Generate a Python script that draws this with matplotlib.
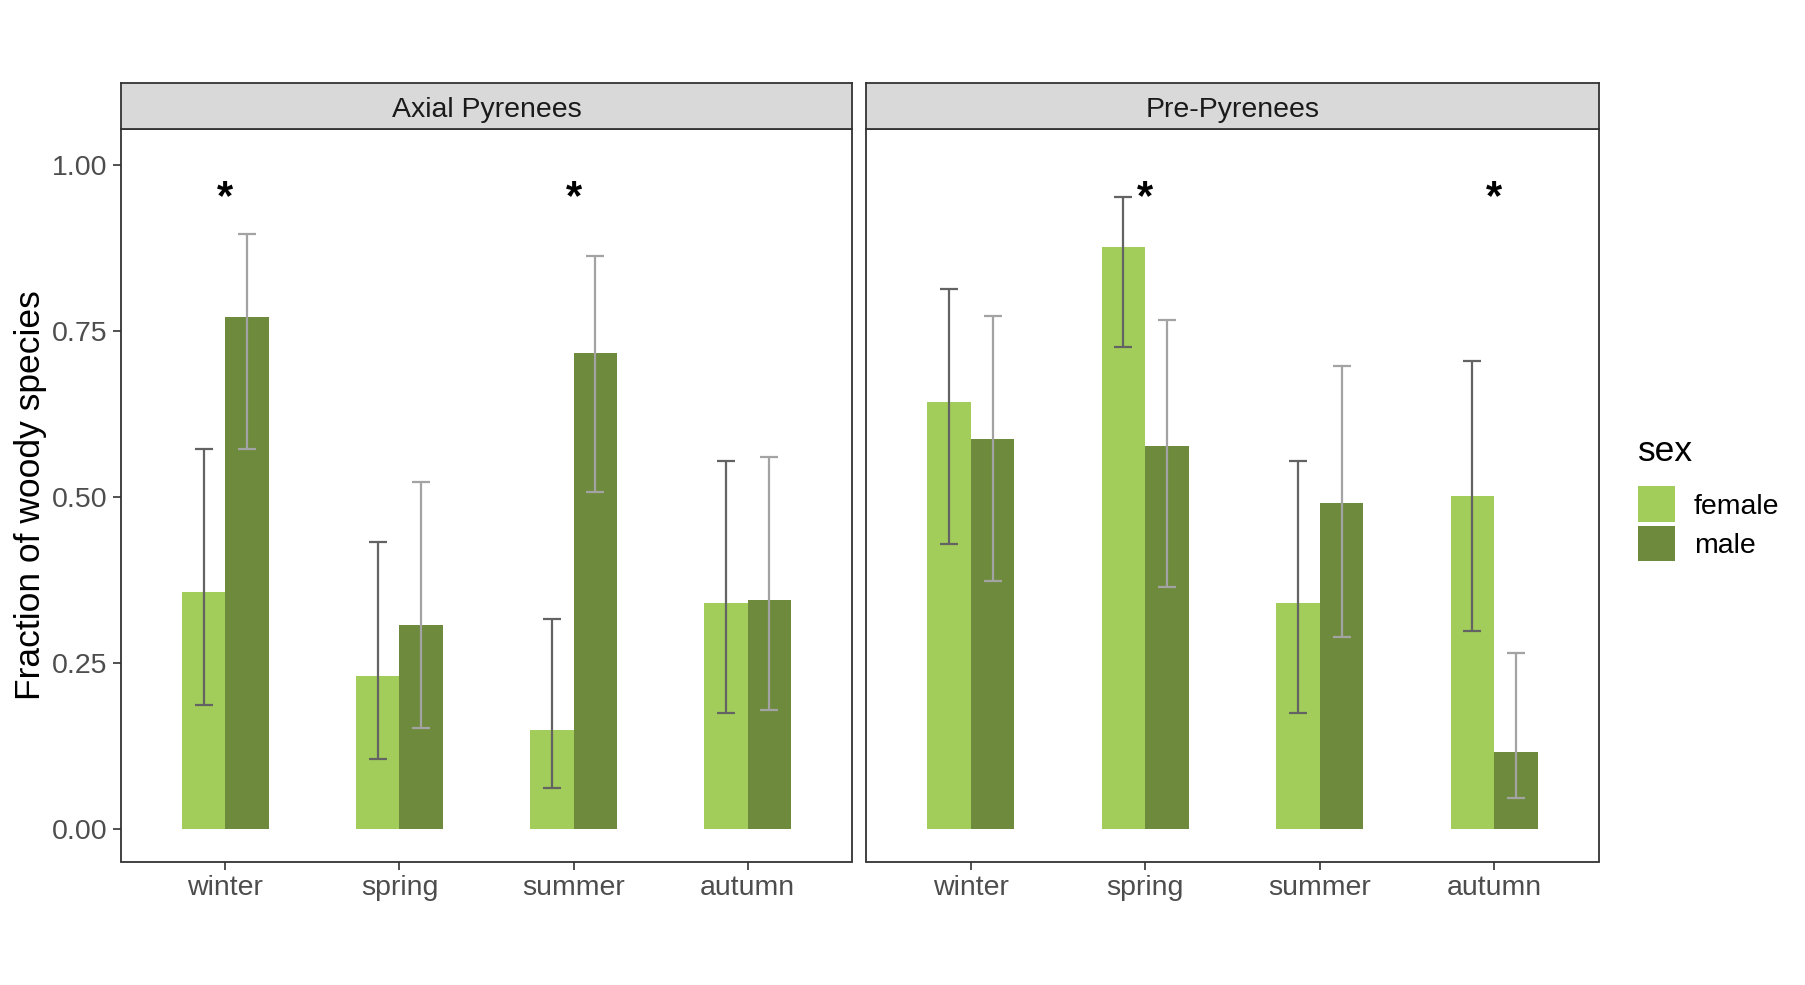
import numpy as np
import matplotlib.pyplot as plt
from matplotlib.patches import Rectangle

plt.rcParams['font.family'] = ['Liberation Sans', 'DejaVu Sans']

seasons = ['winter', 'spring', 'summer', 'autumn']
regions = ['Axial Pyrenees', 'Pre-Pyrenees']
sexes = ['female', 'male']

# fraction of woody species, rows = region, cols = season
female_mean = [[0.357, 0.231, 0.149, 0.340],
               [0.643, 0.877, 0.340, 0.501]]
female_low = [[0.187, 0.106, 0.062, 0.175],
              [0.430, 0.726, 0.175, 0.298]]
female_high = [[0.572, 0.433, 0.317, 0.555],
               [0.813, 0.951, 0.555, 0.705]]
male_mean = [[0.771, 0.308, 0.717, 0.345],
             [0.588, 0.577, 0.491, 0.116]]
male_low = [[0.572, 0.153, 0.508, 0.179],
            [0.374, 0.364, 0.289, 0.047]]
male_high = [[0.896, 0.523, 0.863, 0.560],
             [0.773, 0.766, 0.697, 0.265]]
# significant sex difference
signif = [[True, False, True, False],
          [False, True, False, True]]

col_f = '#A2CD5A'
col_m = '#6E8B3D'
err_f = '#636363'
err_m = '#A3A3A3'
edge = '#333333'

fig = plt.figure(figsize=(18.06, 9.85), dpi=100)

lefts = [121 / 1806, 866 / 1806]
widths = [731 / 1806, 733 / 1806]
bottom = 1 - 861.5 / 985
height = (861.5 - 129) / 985
strip_h = 46 / 985

x = np.arange(1, len(seasons) + 1)
w = 0.25

for i, region in enumerate(regions):
    ax = fig.add_axes([lefts[i], bottom, widths[i], height])
    fm = np.array(female_mean[i])
    mm = np.array(male_mean[i])
    ax.bar(x - w / 2, fm, width=w, color=col_f, edgecolor='none', zorder=2)
    ax.bar(x + w / 2, mm, width=w, color=col_m, edgecolor='none', zorder=2)

    ax.errorbar(x - w / 2, fm,
                yerr=[fm - np.array(female_low[i]), np.array(female_high[i]) - fm],
                fmt='none', ecolor=err_f, elinewidth=1.6, capsize=6.3,
                capthick=1.6, zorder=3)
    ax.errorbar(x + w / 2, mm,
                yerr=[mm - np.array(male_low[i]), np.array(male_high[i]) - mm],
                fmt='none', ecolor=err_m, elinewidth=1.6, capsize=6.3,
                capthick=1.6, zorder=3)

    for j, s in enumerate(signif[i]):
        if s:
            ax.text(x[j], 0.95, '*', ha='center', va='center',
                    fontsize=30, fontweight='bold', color='black', zorder=4)

    ax.set_xlim(0.4, 4.6)
    ax.set_ylim(-0.0485, 1.054)
    ax.set_xticks(x)
    ax.set_xticklabels(seasons)
    ax.set_yticks([0, 0.25, 0.5, 0.75, 1.0])
    ax.set_yticklabels(['0.00', '0.25', '0.50', '0.75', '1.00'])
    ax.tick_params(axis='both', labelsize=20.5, labelcolor='#4D4D4D',
                   color=edge, length=6, width=1.2, pad=4)
    if i > 0:
        ax.tick_params(axis='y', left=False, labelleft=False)
    else:
        ax.set_ylabel('Fraction of woody species', fontsize=25.5, labelpad=3)
    for sp in ax.spines.values():
        sp.set_color(edge)
        sp.set_linewidth(1.3)

    # facet strip
    sax = fig.add_axes([lefts[i], bottom + height, widths[i], strip_h])
    sax.set_facecolor('#D9D9D9')
    sax.set_xticks([])
    sax.set_yticks([])
    for sp in sax.spines.values():
        sp.set_color(edge)
        sp.set_linewidth(1.3)
    sax.text(0.5, 0.41, region, ha='center', va='center', fontsize=20.5,
             color='#1A1A1A', transform=sax.transAxes)

# legend, drawn by hand to match ggplot key sizes
W, H = 1806, 985
fig.text(1638 / W, 1 - 451.5 / H, 'sex', fontsize=25.5, ha='left', va='center')
key_cols = [col_f, col_m]
for k, lab in enumerate(sexes):
    top = 486 + k * 39.5
    fig.add_artist(Rectangle((1638 / W, 1 - (top + 35.5) / H), 37 / W, 35.5 / H,
                             facecolor=key_cols[k], edgecolor='none',
                             transform=fig.transFigure))
    fig.text(1694 / W, 1 - (top + 20.5) / H, lab, fontsize=20.5, ha='left',
             va='center')

fig.savefig('out.png', dpi=100)
